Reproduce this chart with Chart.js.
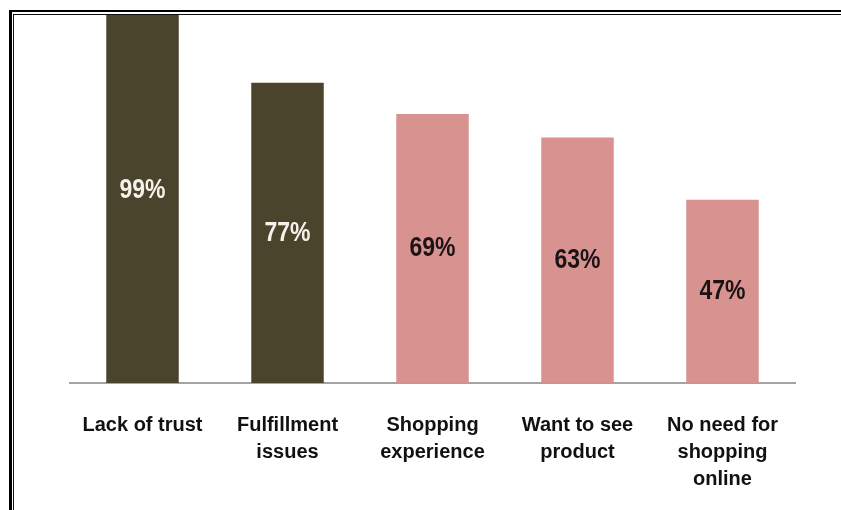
<!DOCTYPE html>
<html>
<head>
<meta charset="utf-8">
<script src="https://cdn.jsdelivr.net/npm/chart.js@4"></script>
<style>
  html, body { margin: 0; padding: 0; background: #fff; }
  #wrap { position: relative; width: 841px; height: 510px; overflow: hidden; }
  #chartBox { position: absolute; left: 0; top: 0; width: 841px; height: 510px; }
  .frameOuter { position: absolute; left: 9px; top: 10px; right: -10px; bottom: -10px;
    border-left: 3px solid #000; border-top: 2.5px solid #000; pointer-events: none; }
  .frameInner { position: absolute; left: 13px; top: 13.5px; right: -10px; bottom: -10px;
    border-left: 1.5px solid #111; border-top: 1.5px solid #111; pointer-events: none; }
</style>
</head>
<body>
<div id="wrap">
  <div id="chartBox"><canvas id="barChart"></canvas></div>
  <div class="frameOuter"></div>
  <div class="frameInner"></div>
</div>
<script>
// chart data
const categories = [
    ['Lack of trust'],
    ['Fulfillment', 'issues'],
    ['Shopping', 'experience'],
    ['Want to see', 'product'],
    ['No need for', 'shopping', 'online']
];
const percentValues = [99, 77, 69, 63, 47];
const barColors = ['#4b442d', '#4b442d', '#d89391', '#d89391', '#d89391'];
const labelColors = ['#f4f2ea', '#f4f2ea', '#1c1414', '#1c1414', '#1c1414'];

// draws "99%" etc. in the middle of each bar (taller text like the original)
const valueLabels = {
    id: 'valueLabels',
    afterDatasetsDraw(chart) {
        const ctx = chart.ctx;
        const meta = chart.getDatasetMeta(0);
        const yScale = chart.scales.y;
        ctx.save();
        ctx.font = 'bold 23px "Liberation Sans", Arial, sans-serif';
        ctx.textAlign = 'center';
        ctx.textBaseline = 'middle';
        meta.data.forEach((bar, i) => {
            const v = percentValues[i];
            const y = yScale.getPixelForValue(v / 2);
            ctx.fillStyle = labelColors[i];
            ctx.save();
            ctx.translate(bar.x, y);
            ctx.scale(1, 1.2);
            ctx.fillText(v + '%', 0, 0);
            ctx.restore();
        });
        ctx.restore();
    }
};

const ctx = document.getElementById('barChart').getContext('2d');
new Chart(ctx, {
    type: 'bar',
    data: {
        labels: categories,
        datasets: [{
            data: percentValues,
            backgroundColor: barColors,
            borderWidth: 0,
            categoryPercentage: 1,
            barPercentage: 0.5,
            clip: 0
        }]
    },
    options: {
        responsive: true,
        maintainAspectRatio: false,
        animation: false,
        layout: { padding: { left: 70, right: 46, top: 15, bottom: 0 } },
        plugins: {
            legend: { display: false },
            tooltip: { enabled: false }
        },
        scales: {
            x: {
                afterFit(scale) { scale.height = 127; },
                grid: { display: false },
                border: { display: true, color: '#a3a3a3', width: 2 },
                ticks: {
                    color: '#111',
                    padding: 21,
                    maxRotation: 0,
                    font: { family: '"Liberation Sans", Arial, sans-serif', size: 20, weight: 'bold', lineHeight: 1.35 }
                }
            },
            y: {
                display: false,
                min: 0,
                max: 94.4
            }
        }
    },
    plugins: [valueLabels]
});
</script>
</body>
</html>
